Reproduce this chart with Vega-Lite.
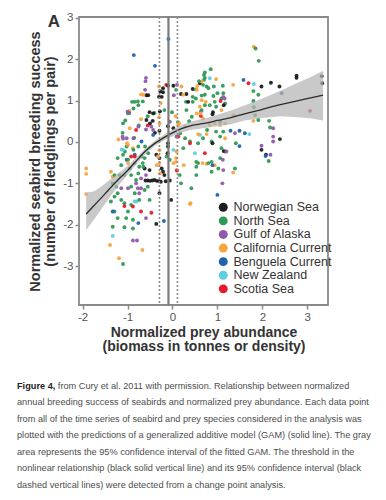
{
  "$schema": "https://vega.github.io/schema/vega-lite/v6.json",
  "width": 249,
  "height": 288,
  "autosize": {"type": "none"},
  "padding": {"left": 79, "top": 17, "right": 58, "bottom": 195},
  "background": "white",
  "config": {
    "font": "Liberation Sans",
    "view": {"stroke": "#8a8a8a", "strokeWidth": 1.8},
    "title": {"subtitleLineHeight": 16.5},
    "axis": {
      "domain": false, "grid": false,
      "tickColor": "#8a8a8a", "tickSize": 4, "tickWidth": 1.5,
      "labelColor": "#555555", "labelFontSize": 11.5, "labelFont": "Liberation Sans",
      "titleFont": "Liberation Sans", "titleFontWeight": "bold", "titleColor": "#333333", "titleFontSize": 14
    }
  },
  "title": {
    "text": "Figure 4,",
    "subtitle": [
      "\u200b\u00a0\u00a0\u00a0\u00a0\u00a0\u00a0\u00a0\u00a0\u00a0\u00a0\u00a0\u00a0\u00a0\u00a0\u00a0\u00a0from Cury et al. 2011 with permission. Relationship between normalized",
      "annual breeding success of seabirds and normalized prey abundance. Each data point",
      "from all of the time series of seabird and prey species considered in the analysis was",
      "plotted with the predictions of a generalized additive model (GAM) (solid line). The gray",
      "area represents the 95% confidence interval of the fitted GAM. The threshold in the",
      "nonlinear relationship (black solid vertical line) and its 95% confidence interval (black",
      "dashed vertical lines) were detected from a change point analysis."
    ],
    "orient": "bottom", "anchor": "start", "frame": "group",
    "font": "Liberation Sans", "fontSize": 9.2, "fontWeight": "bold", "color": "#222222",
    "subtitleFont": "Liberation Sans", "subtitleFontSize": 9.2, "subtitleColor": "#4d4d4d",
    "subtitleLineHeight": 16.5, "subtitlePadding": -9.2,
    "offset": 28, "dx": -62
  },
  "datasets": {
    "observations": [
      {"prey": -0.09, "breeding": 2.49, "region": "Benguela Current"},
      {"prey": -0.86, "breeding": 2.10, "region": "Benguela Current"},
      {"prey": -0.39, "breeding": 1.84, "region": "Benguela Current"},
      {"prey": -0.59, "breeding": 1.55, "region": "Gulf of Alaska"},
      {"prey": -0.60, "breeding": 1.47, "region": "Gulf of Alaska"},
      {"prey": -0.61, "breeding": 1.26, "region": "Gulf of Alaska"},
      {"prey": -0.70, "breeding": 1.15, "region": "California Current"},
      {"prey": -0.58, "breeding": 1.13, "region": "Norwegian Sea"},
      {"prey": -0.54, "breeding": 1.13, "region": "Norwegian Sea"},
      {"prey": -0.90, "breeding": 0.97, "region": "North Sea"},
      {"prey": -0.77, "breeding": 0.98, "region": "North Sea"},
      {"prey": -0.66, "breeding": 0.98, "region": "North Sea"},
      {"prey": -0.14, "breeding": 1.38, "region": "Scotia Sea"},
      {"prey": -0.10, "breeding": 1.36, "region": "Norwegian Sea"},
      {"prey": 0.02, "breeding": 1.36, "region": "Norwegian Sea"},
      {"prey": -0.30, "breeding": 1.09, "region": "Norwegian Sea"},
      {"prey": -0.27, "breeding": 1.22, "region": "Norwegian Sea"},
      {"prey": -0.21, "breeding": 1.20, "region": "Norwegian Sea"},
      {"prey": 0.03, "breeding": 1.13, "region": "Gulf of Alaska"},
      {"prey": 0.19, "breeding": 1.16, "region": "Norwegian Sea"},
      {"prey": 0.31, "breeding": 1.16, "region": "Norwegian Sea"},
      {"prey": 0.30, "breeding": 0.97, "region": "North Sea"},
      {"prey": 0.45, "breeding": 0.97, "region": "North Sea"},
      {"prey": 0.45, "breeding": 1.28, "region": "Norwegian Sea"},
      {"prey": 0.52, "breeding": 1.27, "region": "North Sea"},
      {"prey": 0.55, "breeding": 1.35, "region": "California Current"},
      {"prey": 0.10, "breeding": 1.38, "region": "Gulf of Alaska"},
      {"prey": -0.96, "breeding": 0.75, "region": "California Current"},
      {"prey": -0.96, "breeding": 0.70, "region": "Gulf of Alaska"},
      {"prey": -0.51, "breeding": 0.72, "region": "Norwegian Sea"},
      {"prey": -0.40, "breeding": 0.70, "region": "North Sea"},
      {"prey": -0.55, "breeding": 0.62, "region": "North Sea"},
      {"prey": -0.18, "breeding": 0.77, "region": "North Sea"},
      {"prey": -0.28, "breeding": 0.74, "region": "Norwegian Sea"},
      {"prey": -0.01, "breeding": 0.72, "region": "North Sea"},
      {"prey": 0.07, "breeding": 0.62, "region": "California Current"},
      {"prey": 0.12, "breeding": 0.48, "region": "North Sea"},
      {"prey": 0.15, "breeding": 0.45, "region": "California Current"},
      {"prey": 0.37, "breeding": 0.50, "region": "North Sea"},
      {"prey": -0.44, "breeding": 0.51, "region": "Norwegian Sea"},
      {"prey": -1.05, "breeding": 0.52, "region": "North Sea"},
      {"prey": -0.81, "breeding": 0.29, "region": "Scotia Sea"},
      {"prey": -0.29, "breeding": 0.27, "region": "Norwegian Sea"},
      {"prey": -0.39, "breeding": 0.22, "region": "Norwegian Sea"},
      {"prey": -0.59, "breeding": 0.30, "region": "Gulf of Alaska"},
      {"prey": -1.11, "breeding": 0.22, "region": "North Sea"},
      {"prey": -1.01, "breeding": -0.03, "region": "California Current"},
      {"prey": -0.88, "breeding": -0.15, "region": "California Current"},
      {"prey": -1.22, "breeding": -0.39, "region": "North Sea"},
      {"prey": -0.10, "breeding": 0.38, "region": "Norwegian Sea"},
      {"prey": -0.55, "breeding": 0.40, "region": "Scotia Sea"},
      {"prey": -0.75, "breeding": 0.40, "region": "North Sea"},
      {"prey": -0.70, "breeding": 0.55, "region": "California Current"},
      {"prey": -0.85, "breeding": 0.10, "region": "North Sea"},
      {"prey": -1.10, "breeding": 0.08, "region": "Gulf of Alaska"},
      {"prey": -1.20, "breeding": 0.06, "region": "California Current"},
      {"prey": -0.84, "breeding": 0.97, "region": "North Sea"},
      {"prey": -0.65, "breeding": 1.14, "region": "California Current"},
      {"prey": -0.21, "breeding": 1.30, "region": "Norwegian Sea"},
      {"prey": -0.24, "breeding": 1.09, "region": "Norwegian Sea"},
      {"prey": -0.26, "breeding": 0.94, "region": "California Current"},
      {"prey": 0.08, "breeding": 1.26, "region": "North Sea"},
      {"prey": 0.20, "breeding": 1.34, "region": "California Current"},
      {"prey": 0.24, "breeding": 1.14, "region": "California Current"},
      {"prey": 0.35, "breeding": 0.97, "region": "Norwegian Sea"},
      {"prey": 0.45, "breeding": 1.09, "region": "North Sea"},
      {"prey": 0.52, "breeding": 1.05, "region": "North Sea"},
      {"prey": 0.54, "breeding": 1.26, "region": "California Current"},
      {"prey": 0.61, "breeding": 1.42, "region": "Norwegian Sea"},
      {"prey": 0.72, "breeding": 1.14, "region": "North Sea"},
      {"prey": 0.80, "breeding": 1.30, "region": "North Sea"},
      {"prey": 0.91, "breeding": 1.11, "region": "North Sea"},
      {"prey": 1.00, "breeding": 1.18, "region": "North Sea"},
      {"prey": 1.09, "breeding": 1.05, "region": "North Sea"},
      {"prey": 1.13, "breeding": 1.18, "region": "North Sea"},
      {"prey": 0.83, "breeding": 0.89, "region": "North Sea"},
      {"prey": 0.97, "breeding": 0.85, "region": "North Sea"},
      {"prey": 0.61, "breeding": 0.85, "region": "California Current"},
      {"prey": 1.09, "breeding": 0.77, "region": "California Current"},
      {"prey": 0.94, "breeding": 0.45, "region": "California Current"},
      {"prey": 1.06, "breeding": 0.41, "region": "California Current"},
      {"prey": 0.63, "breeding": 0.73, "region": "Gulf of Alaska"},
      {"prey": 0.31, "breeding": 0.77, "region": "North Sea"},
      {"prey": 0.43, "breeding": 0.61, "region": "North Sea"},
      {"prey": 0.54, "breeding": 0.69, "region": "California Current"},
      {"prey": 0.68, "breeding": 0.57, "region": "California Current"},
      {"prey": 0.63, "breeding": 0.63, "region": "Scotia Sea"},
      {"prey": 0.61, "breeding": 0.17, "region": "New Zealand"},
      {"prey": 0.68, "breeding": 0.09, "region": "North Sea"},
      {"prey": 0.87, "breeding": 0.01, "region": "North Sea"},
      {"prey": 1.06, "breeding": 0.13, "region": "North Sea"},
      {"prey": 1.17, "breeding": -0.23, "region": "North Sea"},
      {"prey": 1.09, "breeding": -0.15, "region": "North Sea"},
      {"prey": 0.72, "breeding": -0.27, "region": "Scotia Sea"},
      {"prey": 0.50, "breeding": -0.27, "region": "New Zealand"},
      {"prey": 0.87, "breeding": -0.48, "region": "North Sea"},
      {"prey": 1.06, "breeding": -0.39, "region": "North Sea"},
      {"prey": 1.02, "breeding": -0.64, "region": "North Sea"},
      {"prey": 1.13, "breeding": -0.68, "region": "Gulf of Alaska"},
      {"prey": 0.17, "breeding": 0.21, "region": "North Sea"},
      {"prey": 0.28, "breeding": 0.09, "region": "North Sea"},
      {"prey": 0.39, "breeding": 0.01, "region": "North Sea"},
      {"prey": 0.13, "breeding": 0.41, "region": "California Current"},
      {"prey": 0.28, "breeding": 0.37, "region": "California Current"},
      {"prey": -0.06, "breeding": 0.49, "region": "Gulf of Alaska"},
      {"prey": 0.02, "breeding": 0.33, "region": "Norwegian Sea"},
      {"prey": 0.13, "breeding": 0.13, "region": "Scotia Sea"},
      {"prey": 0.24, "breeding": -0.15, "region": "North Sea"},
      {"prey": 0.09, "breeding": -0.23, "region": "California Current"},
      {"prey": 0.08, "breeding": -0.39, "region": "California Current"},
      {"prey": 0.02, "breeding": -0.51, "region": "California Current"},
      {"prey": 0.09, "breeding": -0.68, "region": "California Current"},
      {"prey": 0.02, "breeding": -0.19, "region": "New Zealand"},
      {"prey": -0.10, "breeding": -0.11, "region": "Norwegian Sea"},
      {"prey": -0.13, "breeding": -0.35, "region": "North Sea"},
      {"prey": -0.06, "breeding": -0.43, "region": "North Sea"},
      {"prey": -0.24, "breeding": -0.64, "region": "Norwegian Sea"},
      {"prey": -0.21, "breeding": -0.72, "region": "Norwegian Sea"},
      {"prey": -0.60, "breeding": -0.93, "region": "Norwegian Sea"},
      {"prey": -0.55, "breeding": -0.93, "region": "Norwegian Sea"},
      {"prey": -0.50, "breeding": -0.94, "region": "Norwegian Sea"},
      {"prey": -0.45, "breeding": -0.93, "region": "Norwegian Sea"},
      {"prey": -0.40, "breeding": -0.92, "region": "Norwegian Sea"},
      {"prey": -0.35, "breeding": -0.94, "region": "Norwegian Sea"},
      {"prey": -0.30, "breeding": -0.95, "region": "Norwegian Sea"},
      {"prey": -0.26, "breeding": -0.96, "region": "Norwegian Sea"},
      {"prey": -0.15, "breeding": -0.95, "region": "Norwegian Sea"},
      {"prey": -0.06, "breeding": -0.93, "region": "Norwegian Sea"},
      {"prey": -0.03, "breeding": -1.40, "region": "Norwegian Sea"},
      {"prey": -0.29, "breeding": -1.24, "region": "Norwegian Sea"},
      {"prey": -0.36, "breeding": -1.98, "region": "Norwegian Sea"},
      {"prey": -0.62, "breeding": -0.64, "region": "Norwegian Sea"},
      {"prey": -0.51, "breeding": -0.68, "region": "Norwegian Sea"},
      {"prey": -0.36, "breeding": -0.31, "region": "Norwegian Sea"},
      {"prey": -0.29, "breeding": -0.39, "region": "Norwegian Sea"},
      {"prey": -0.87, "breeding": 0.09, "region": "Gulf of Alaska"},
      {"prey": -1.02, "breeding": 0.09, "region": "Gulf of Alaska"},
      {"prey": -0.95, "breeding": 0.33, "region": "California Current"},
      {"prey": -1.06, "breeding": -0.23, "region": "North Sea"},
      {"prey": -1.02, "breeding": -0.11, "region": "North Sea"},
      {"prey": -0.87, "breeding": -0.19, "region": "North Sea"},
      {"prey": -0.76, "breeding": -0.11, "region": "North Sea"},
      {"prey": -0.69, "breeding": -0.35, "region": "North Sea"},
      {"prey": -0.61, "breeding": -0.11, "region": "North Sea"},
      {"prey": -0.54, "breeding": -0.27, "region": "North Sea"},
      {"prey": -0.84, "breeding": -0.51, "region": "North Sea"},
      {"prey": -0.65, "breeding": -0.60, "region": "North Sea"},
      {"prey": -0.76, "breeding": -0.76, "region": "North Sea"},
      {"prey": -1.02, "breeding": -0.43, "region": "Benguela Current"},
      {"prey": -0.95, "breeding": -0.64, "region": "Benguela Current"},
      {"prey": -0.84, "breeding": -0.31, "region": "Benguela Current"},
      {"prey": -1.10, "breeding": -0.19, "region": "New Zealand"},
      {"prey": -0.84, "breeding": -0.35, "region": "Scotia Sea"},
      {"prey": -0.32, "breeding": -0.35, "region": "California Current"},
      {"prey": -0.35, "breeding": -0.56, "region": "California Current"},
      {"prey": -0.28, "breeding": -0.76, "region": "California Current"},
      {"prey": -0.47, "breeding": 0.37, "region": "Gulf of Alaska"},
      {"prey": -0.43, "breeding": 0.29, "region": "Gulf of Alaska"},
      {"prey": -0.43, "breeding": 0.17, "region": "Benguela Current"},
      {"prey": -0.69, "breeding": 0.01, "region": "Benguela Current"},
      {"prey": -0.76, "breeding": 0.37, "region": "Gulf of Alaska"},
      {"prey": -0.58, "breeding": 0.53, "region": "Norwegian Sea"},
      {"prey": -0.50, "breeding": 0.45, "region": "Norwegian Sea"},
      {"prey": -0.43, "breeding": 0.69, "region": "Norwegian Sea"},
      {"prey": -1.10, "breeding": 0.45, "region": "North Sea"},
      {"prey": -0.99, "breeding": 0.69, "region": "North Sea"},
      {"prey": -0.87, "breeding": 0.81, "region": "North Sea"},
      {"prey": -0.76, "breeding": 0.89, "region": "North Sea"},
      {"prey": -1.00, "breeding": 0.73, "region": "Gulf of Alaska"},
      {"prey": -1.92, "breeding": -0.64, "region": "California Current"},
      {"prey": -1.92, "breeding": -0.77, "region": "California Current"},
      {"prey": -1.92, "breeding": -1.26, "region": "California Current"},
      {"prey": -1.37, "breeding": -0.72, "region": "California Current"},
      {"prey": -1.33, "breeding": -0.84, "region": "California Current"},
      {"prey": -1.10, "breeding": -0.31, "region": "North Sea"},
      {"prey": -1.14, "breeding": -0.56, "region": "North Sea"},
      {"prey": -0.99, "breeding": -0.43, "region": "North Sea"},
      {"prey": -1.29, "breeding": -0.80, "region": "North Sea"},
      {"prey": -1.18, "breeding": -0.80, "region": "North Sea"},
      {"prey": -1.07, "breeding": -0.80, "region": "North Sea"},
      {"prey": -0.92, "breeding": -0.80, "region": "North Sea"},
      {"prey": -1.33, "breeding": -1.00, "region": "North Sea"},
      {"prey": -1.25, "breeding": -1.08, "region": "North Sea"},
      {"prey": -1.22, "breeding": -1.24, "region": "North Sea"},
      {"prey": -1.29, "breeding": -1.32, "region": "North Sea"},
      {"prey": -1.14, "breeding": -1.40, "region": "North Sea"},
      {"prey": -1.37, "breeding": -1.44, "region": "North Sea"},
      {"prey": -1.07, "breeding": -1.48, "region": "North Sea"},
      {"prey": -0.92, "breeding": -1.52, "region": "North Sea"},
      {"prey": -0.99, "breeding": -1.68, "region": "North Sea"},
      {"prey": -1.29, "breeding": -1.68, "region": "North Sea"},
      {"prey": -1.22, "breeding": -1.84, "region": "North Sea"},
      {"prey": -1.03, "breeding": -1.84, "region": "North Sea"},
      {"prey": -0.88, "breeding": -1.88, "region": "North Sea"},
      {"prey": -1.33, "breeding": -2.05, "region": "North Sea"},
      {"prey": -1.07, "breeding": -2.06, "region": "North Sea"},
      {"prey": -0.88, "breeding": -2.09, "region": "North Sea"},
      {"prey": -1.33, "breeding": -2.27, "region": "New Zealand"},
      {"prey": -1.39, "breeding": -2.49, "region": "California Current"},
      {"prey": -0.88, "breeding": -2.38, "region": "Gulf of Alaska"},
      {"prey": -0.79, "breeding": -2.38, "region": "Gulf of Alaska"},
      {"prey": -0.67, "breeding": -2.61, "region": "California Current"},
      {"prey": -1.19, "breeding": -2.81, "region": "California Current"},
      {"prey": -1.10, "breeding": -2.95, "region": "North Sea"},
      {"prey": -1.14, "breeding": -1.12, "region": "Gulf of Alaska"},
      {"prey": -0.99, "breeding": -1.12, "region": "Gulf of Alaska"},
      {"prey": -0.81, "breeding": -1.00, "region": "Gulf of Alaska"},
      {"prey": -0.77, "breeding": -1.12, "region": "Gulf of Alaska"},
      {"prey": -0.74, "breeding": -1.24, "region": "Gulf of Alaska"},
      {"prey": -0.70, "breeding": -1.12, "region": "Gulf of Alaska"},
      {"prey": -1.07, "breeding": -1.55, "region": "Scotia Sea"},
      {"prey": -0.88, "breeding": -1.56, "region": "Scotia Sea"},
      {"prey": -0.70, "breeding": -1.68, "region": "Scotia Sea"},
      {"prey": -0.47, "breeding": -1.71, "region": "Scotia Sea"},
      {"prey": -1.33, "breeding": -1.68, "region": "Benguela Current"},
      {"prey": -0.59, "breeding": -1.84, "region": "Gulf of Alaska"},
      {"prey": -0.76, "breeding": -1.96, "region": "Benguela Current"},
      {"prey": -0.19, "breeding": -1.91, "region": "Benguela Current"},
      {"prey": -0.74, "breeding": -0.60, "region": "North Sea"},
      {"prey": -0.62, "breeding": -0.39, "region": "North Sea"},
      {"prey": -0.66, "breeding": -0.51, "region": "North Sea"},
      {"prey": -0.92, "breeding": -0.35, "region": "Scotia Sea"},
      {"prey": -0.99, "breeding": -0.51, "region": "California Current"},
      {"prey": -0.84, "breeding": -1.44, "region": "New Zealand"},
      {"prey": -0.80, "breeding": -1.44, "region": "New Zealand"},
      {"prey": -0.59, "breeding": -0.80, "region": "Gulf of Alaska"},
      {"prey": -0.70, "breeding": -0.88, "region": "Gulf of Alaska"},
      {"prey": -0.84, "breeding": -1.24, "region": "North Sea"},
      {"prey": -0.92, "breeding": -1.08, "region": "North Sea"},
      {"prey": -0.81, "breeding": -0.92, "region": "North Sea"},
      {"prey": -0.62, "breeding": -1.16, "region": "North Sea"},
      {"prey": -0.55, "breeding": -1.08, "region": "North Sea"},
      {"prey": -0.74, "breeding": -1.40, "region": "North Sea"},
      {"prey": -0.51, "breeding": -1.40, "region": "North Sea"},
      {"prey": 0.08, "breeding": -0.48, "region": "California Current"},
      {"prey": 0.10, "breeding": -0.69, "region": "Scotia Sea"},
      {"prey": 0.19, "breeding": -1.00, "region": "North Sea"},
      {"prey": 0.25, "breeding": -0.56, "region": "California Current"},
      {"prey": 0.53, "breeding": -0.48, "region": "North Sea"},
      {"prey": 0.53, "breeding": -0.60, "region": "North Sea"},
      {"prey": 0.53, "breeding": -0.80, "region": "North Sea"},
      {"prey": 0.42, "breeding": -1.12, "region": "North Sea"},
      {"prey": 0.40, "breeding": -1.48, "region": "California Current"},
      {"prey": -0.29, "breeding": -0.51, "region": "California Current"},
      {"prey": -0.29, "breeding": -0.20, "region": "California Current"},
      {"prey": -0.18, "breeding": -0.80, "region": "Norwegian Sea"},
      {"prey": 1.81, "breeding": 2.30, "region": "California Current"},
      {"prey": 1.85, "breeding": 2.26, "region": "North Sea"},
      {"prey": 1.92, "breeding": 1.96, "region": "North Sea"},
      {"prey": 0.85, "breeding": 1.76, "region": "North Sea"},
      {"prey": 0.72, "breeding": 1.68, "region": "North Sea"},
      {"prey": 0.70, "breeding": 1.62, "region": "North Sea"},
      {"prey": 0.72, "breeding": 1.55, "region": "North Sea"},
      {"prey": 0.70, "breeding": 1.50, "region": "North Sea"},
      {"prey": 0.68, "breeding": 1.38, "region": "North Sea"},
      {"prey": 0.83, "breeding": 1.54, "region": "New Zealand"},
      {"prey": 0.97, "breeding": 1.52, "region": "California Current"},
      {"prey": 0.65, "breeding": 1.46, "region": "California Current"},
      {"prey": 0.76, "breeding": 1.34, "region": "North Sea"},
      {"prey": 0.92, "breeding": 1.34, "region": "North Sea"},
      {"prey": 1.12, "breeding": 1.36, "region": "North Sea"},
      {"prey": 1.35, "breeding": 1.38, "region": "California Current"},
      {"prey": 1.58, "breeding": 1.50, "region": "Benguela Current"},
      {"prey": 1.69, "breeding": 1.42, "region": "Scotia Sea"},
      {"prey": 1.81, "breeding": 1.40, "region": "New Zealand"},
      {"prey": 1.98, "breeding": 1.34, "region": "Norwegian Sea"},
      {"prey": 2.19, "breeding": 1.43, "region": "Norwegian Sea"},
      {"prey": 2.38, "breeding": 1.34, "region": "Norwegian Sea"},
      {"prey": 2.76, "breeding": 1.60, "region": "Norwegian Sea"},
      {"prey": 2.76, "breeding": 1.55, "region": "Norwegian Sea"},
      {"prey": 3.32, "breeding": 1.59, "region": "Norwegian Sea"},
      {"prey": 3.33, "breeding": 1.42, "region": "Norwegian Sea"},
      {"prey": 2.43, "breeding": 1.18, "region": "Benguela Current"},
      {"prey": 1.80, "breeding": 1.23, "region": "North Sea"},
      {"prey": 1.91, "breeding": 1.14, "region": "North Sea"},
      {"prey": 3.06, "breeding": 0.75, "region": "Scotia Sea"},
      {"prey": 0.65, "breeding": 1.12, "region": "North Sea"},
      {"prey": 0.65, "breeding": 1.01, "region": "California Current"},
      {"prey": 0.74, "breeding": 0.97, "region": "California Current"},
      {"prey": 1.13, "breeding": 1.09, "region": "Gulf of Alaska"},
      {"prey": 1.16, "breeding": 1.05, "region": "Gulf of Alaska"},
      {"prey": 0.94, "breeding": 0.97, "region": "North Sea"},
      {"prey": 0.72, "breeding": 0.89, "region": "North Sea"},
      {"prey": 0.65, "breeding": 0.77, "region": "North Sea"},
      {"prey": 1.07, "breeding": 0.99, "region": "Scotia Sea"},
      {"prey": 1.17, "breeding": 0.93, "region": "North Sea"},
      {"prey": 1.14, "breeding": 0.89, "region": "Norwegian Sea"},
      {"prey": 0.89, "breeding": 0.67, "region": "Norwegian Sea"},
      {"prey": 0.90, "breeding": 0.72, "region": "Norwegian Sea"},
      {"prey": 0.62, "breeding": 0.69, "region": "California Current"},
      {"prey": 1.35, "breeding": 0.65, "region": "California Current"},
      {"prey": 1.38, "breeding": 0.63, "region": "California Current"},
      {"prey": 1.80, "breeding": 0.99, "region": "North Sea"},
      {"prey": 1.81, "breeding": 0.84, "region": "North Sea"},
      {"prey": 1.06, "breeding": 0.49, "region": "North Sea"},
      {"prey": 1.84, "breeding": 0.65, "region": "North Sea"},
      {"prey": 1.80, "breeding": 0.51, "region": "California Current"},
      {"prey": 2.15, "breeding": 0.51, "region": "North Sea"},
      {"prey": 2.17, "breeding": 0.35, "region": "North Sea"},
      {"prey": 1.91, "breeding": 0.53, "region": "North Sea"},
      {"prey": 0.77, "breeding": 0.29, "region": "North Sea"},
      {"prey": 0.97, "breeding": 0.25, "region": "North Sea"},
      {"prey": 1.13, "breeding": 0.25, "region": "North Sea"},
      {"prey": 0.83, "breeding": 0.41, "region": "California Current"},
      {"prey": 1.17, "breeding": 0.45, "region": "California Current"},
      {"prey": 1.29, "breeding": 0.27, "region": "Benguela Current"},
      {"prey": 1.39, "breeding": 0.21, "region": "Gulf of Alaska"},
      {"prey": 1.49, "breeding": 0.27, "region": "Benguela Current"},
      {"prey": 1.61, "breeding": 0.21, "region": "Benguela Current"},
      {"prey": 1.71, "breeding": 0.19, "region": "New Zealand"},
      {"prey": 1.41, "breeding": -0.03, "region": "North Sea"},
      {"prey": 1.17, "breeding": 0.09, "region": "California Current"},
      {"prey": 2.24, "breeding": 0.33, "region": "Gulf of Alaska"},
      {"prey": 2.24, "breeding": 0.13, "region": "Gulf of Alaska"},
      {"prey": 2.24, "breeding": 0.01, "region": "Gulf of Alaska"},
      {"prey": 2.39, "breeding": 0.07, "region": "Norwegian Sea"},
      {"prey": 1.49, "breeding": -0.10, "region": "Benguela Current"},
      {"prey": 0.89, "breeding": -0.03, "region": "Norwegian Sea"},
      {"prey": 1.14, "breeding": -0.22, "region": "Norwegian Sea"},
      {"prey": 1.20, "breeding": -0.23, "region": "Gulf of Alaska"},
      {"prey": 1.98, "breeding": -0.09, "region": "Gulf of Alaska"},
      {"prey": 1.98, "breeding": -0.19, "region": "Norwegian Sea"},
      {"prey": 2.08, "breeding": -0.31, "region": "Norwegian Sea"},
      {"prey": 2.18, "breeding": -0.31, "region": "Gulf of Alaska"},
      {"prey": 2.14, "breeding": -0.46, "region": "North Sea"},
      {"prey": 0.67, "breeding": -0.51, "region": "California Current"},
      {"prey": 0.76, "breeding": -0.53, "region": "California Current"},
      {"prey": 0.94, "breeding": -0.56, "region": "California Current"},
      {"prey": 0.89, "breeding": -0.56, "region": "Benguela Current"},
      {"prey": 0.87, "breeding": -0.72, "region": "North Sea"},
      {"prey": 1.35, "breeding": -0.74, "region": "California Current"},
      {"prey": 1.39, "breeding": -0.64, "region": "North Sea"},
      {"prey": 1.12, "breeding": -0.43, "region": "Gulf of Alaska"},
      {"prey": 1.11, "breeding": -1.00, "region": "Gulf of Alaska"},
      {"prey": 1.00, "breeding": -1.28, "region": "Benguela Current"},
      {"prey": 2.07, "breeding": -0.34, "region": "Benguela Current"},
      {"prey": 0.16, "breeding": -0.80, "region": "North Sea"},
      {"prey": 0.57, "breeding": -0.51, "region": "North Sea"},
      {"prey": 0.80, "breeding": -0.51, "region": "North Sea"},
      {"prey": 0.39, "breeding": -1.50, "region": "California Current"},
      {"prey": -0.11, "breeding": -0.27, "region": "Norwegian Sea"},
      {"prey": -0.10, "breeding": -0.03, "region": "Norwegian Sea"},
      {"prey": 0.39, "breeding": -0.03, "region": "Scotia Sea"},
      {"prey": 0.57, "breeding": -0.03, "region": "North Sea"},
      {"prey": 0.57, "breeding": 0.19, "region": "California Current"},
      {"prey": 0.76, "breeding": 0.19, "region": "California Current"},
      {"prey": 0.09, "breeding": 0.13, "region": "Gulf of Alaska"},
      {"prey": -0.99, "breeding": -0.07, "region": "California Current"},
      {"prey": -1.11, "breeding": 0.13, "region": "Gulf of Alaska"},
      {"prey": -1.13, "breeding": -0.18, "region": "New Zealand"},
      {"prey": 0.59, "breeding": 1.47, "region": "North Sea"},
      {"prey": -0.30, "breeding": 1.34, "region": "California Current"},
      {"prey": -0.30, "breeding": 0.60, "region": "California Current"},
      {"prey": -0.29, "breeding": 0.45, "region": "California Current"}
    ],
    "gam": [
      {"prey": -1.92, "fit": -1.74, "lower": -2.13, "upper": -1.22},
      {"prey": -1.75, "fit": -1.54, "lower": -1.88, "upper": -1.20},
      {"prey": -1.6, "fit": -1.37, "lower": -1.65, "upper": -1.09},
      {"prey": -1.4, "fit": -1.13, "lower": -1.34, "upper": -0.92},
      {"prey": -1.2, "fit": -0.90, "lower": -1.05, "upper": -0.75},
      {"prey": -1.0, "fit": -0.69, "lower": -0.80, "upper": -0.58},
      {"prey": -0.8, "fit": -0.45, "lower": -0.53, "upper": -0.37},
      {"prey": -0.6, "fit": -0.22, "lower": -0.29, "upper": -0.15},
      {"prey": -0.4, "fit": -0.04, "lower": -0.10, "upper": 0.02},
      {"prey": -0.2, "fit": 0.10, "lower": 0.03, "upper": 0.17},
      {"prey": 0.0, "fit": 0.22, "lower": 0.14, "upper": 0.30},
      {"prey": 0.2, "fit": 0.32, "lower": 0.23, "upper": 0.41},
      {"prey": 0.4, "fit": 0.39, "lower": 0.29, "upper": 0.49},
      {"prey": 0.6, "fit": 0.43, "lower": 0.32, "upper": 0.54},
      {"prey": 0.8, "fit": 0.47, "lower": 0.35, "upper": 0.59},
      {"prey": 1.0, "fit": 0.52, "lower": 0.38, "upper": 0.66},
      {"prey": 1.3, "fit": 0.59, "lower": 0.43, "upper": 0.76},
      {"prey": 1.6, "fit": 0.68, "lower": 0.52, "upper": 0.88},
      {"prey": 2.0, "fit": 0.79, "lower": 0.58, "upper": 1.05},
      {"prey": 2.4, "fit": 0.90, "lower": 0.62, "upper": 1.24},
      {"prey": 2.8, "fit": 1.00, "lower": 0.60, "upper": 1.44},
      {"prey": 3.1, "fit": 1.07, "lower": 0.57, "upper": 1.58},
      {"prey": 3.35, "fit": 1.13, "lower": 0.52, "upper": 1.72}
    ]
  },
  "layer": [
    {
      "data": {"name": "observations"},
      "mark": {"type": "circle", "size": 15, "opacity": 0.95},
      "encoding": {
        "x": {
          "field": "prey", "type": "quantitative",
          "scale": {"domain": [-2.08, 3.46], "nice": false, "zero": false},
          "axis": {
            "title": ["Normalized prey abundance", "(biomass in tonnes or density)"],
            "values": [-2, -1, 0, 1, 2, 3], "labelExpr": "'' + datum.value",
            "titlePadding": 3, "titleLineHeight": 14, "labelPadding": 2
          }
        },
        "y": {
          "field": "breeding", "type": "quantitative",
          "scale": {"domain": [-3.94, 3.02], "nice": false, "zero": false},
          "axis": {
            "title": ["Normalized seabird breeding success", "(number of fledglings per pair)"],
            "values": [-3, -2, -1, 0, 1, 2, 3], "labelExpr": "'' + datum.value",
            "titlePadding": 5, "titleLineHeight": 15, "titleFontSize": 14.5, "labelPadding": 2
          }
        },
        "color": {
          "field": "region", "type": "nominal",
          "scale": {
            "domain": ["Norwegian Sea", "North Sea", "Gulf of Alaska", "California Current", "Benguela Current", "New Zealand", "Scotia Sea"],
            "range": ["#1c1c1c", "#2f9a55", "#9158ac", "#f8a540", "#1d63ad", "#5ccfe0", "#e8192c"]
          },
          "legend": {
            "orient": "none", "legendX": 138, "legendY": 184, "title": null,
            "symbolType": "circle", "symbolSize": 80, "symbolStrokeWidth": 0, "symbolOpacity": 1,
            "labelFont": "Liberation Sans", "labelFontSize": 12.5, "labelColor": "#333333",
            "rowPadding": 0.6, "labelOffset": 4, "padding": 0
          }
        }
      }
    },
    {
      "data": {"name": "gam"},
      "mark": {"type": "area", "color": "#b4b4b4", "opacity": 0.72},
      "encoding": {
        "x": {"field": "prey", "type": "quantitative"},
        "y": {"field": "lower", "type": "quantitative"},
        "y2": {"field": "upper"}
      }
    },
    {
      "data": {"name": "gam"},
      "mark": {"type": "line", "color": "#2b2b2b", "strokeWidth": 1.3, "interpolate": "monotone"},
      "encoding": {
        "x": {"field": "prey", "type": "quantitative"},
        "y": {"field": "fit", "type": "quantitative"}
      }
    },
    {
      "data": {"values": [{"threshold": -0.09}]},
      "mark": {"type": "rule", "color": "#7a7a7a", "strokeWidth": 2.2},
      "encoding": {"x": {"field": "threshold", "type": "quantitative"}}
    },
    {
      "data": {"values": [{"bound": -0.29}, {"bound": 0.11}]},
      "mark": {"type": "rule", "color": "#8c8c8c", "strokeWidth": 1.6, "strokeDash": [2, 2]},
      "encoding": {"x": {"field": "bound", "type": "quantitative"}}
    },
    {
      "data": {"values": [{"panel": "A"}]},
      "mark": {"type": "text", "font": "Liberation Sans", "fontSize": 17, "fontWeight": "bold", "color": "#333333", "baseline": "middle", "align": "center"},
      "encoding": {
        "x": {"datum": -2.64},
        "y": {"datum": 2.90},
        "text": {"field": "panel"}
      }
    }
  ]
}
